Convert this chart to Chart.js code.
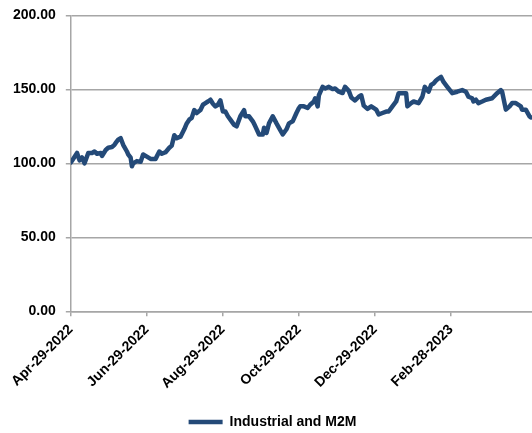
<!DOCTYPE html>
<html>
<head>
<meta charset="utf-8">
<script src="https://cdn.jsdelivr.net/npm/chart.js@4/dist/chart.umd.min.js"></script>
<style>
  html, body { margin: 0; padding: 0; background: #ffffff; overflow: hidden; }
  /* the canvas is a little larger than the view: the plot runs on past the right edge */
  #wrap { width: 532px; height: 433px; overflow: hidden; position: relative; }
  #c { position: absolute; left: 0; top: -3px; }
</style>
</head>
<body>
<div id="wrap"><canvas id="c" width="542" height="436"></canvas></div>
<script>
// Series: index level, sampled by calendar day counted from the start date
const seriesName = 'Industrial and M2M';
const startDate = '2022-04-29';

const dayOffsets = [
  0, 5, 7, 9, 11, 14, 17, 19, 21, 24,
  25, 28, 30, 33, 35, 36, 38, 40, 42, 45,
  46, 48, 49, 50, 53, 56, 58, 61, 64, 68,
  71, 73, 76, 79, 81, 83, 85, 88, 91, 93,
  95, 97, 99, 101, 104, 106, 108, 110, 112, 114,
  116, 118, 120, 122, 124, 126, 128, 131, 133, 136,
  139, 140, 143, 146, 148, 151, 154, 155, 157, 159,
  162, 165, 167, 170, 173, 175, 178, 181, 183, 184,
  187, 190, 192, 195, 196, 198, 199, 202, 204, 207,
  210, 212, 215, 218, 220, 223, 225, 228, 231, 233,
  235, 238, 241, 245, 247, 250, 253, 255, 258, 261,
  263, 266, 269, 270, 273, 275, 279, 282, 284, 286,
  287, 289, 291, 293, 295, 297, 299, 302, 306, 310,
  314, 317, 319, 322, 323, 325, 327, 330, 333, 338,
  342, 345, 346, 349, 352, 354, 357, 361, 362, 365,
  368, 369
];

const values = [
  100.5, 107, 102, 104, 100, 107, 107, 108, 106.5, 107,
  105, 109, 110.5, 111, 112.5, 113.8, 116, 117, 112.5, 108,
  106, 103.8, 98, 100, 101.5, 101, 106, 104.5, 103, 103,
  108, 106.5, 107.5, 110.5, 112, 119, 117, 118, 123, 127,
  129.5, 130.7, 136, 134, 136, 139.6, 140.7, 141.8, 143, 140.3,
  138.5, 139.6, 142.5, 135, 135, 131.8, 129.5, 126, 125, 131.8,
  136, 131.8, 131.8, 128.4, 125, 119.5, 119.5, 124, 120.5, 127,
  131.8, 127, 124, 119.5, 123, 127, 128.4, 134, 137.4, 138.5,
  138.5, 137.4, 139.6, 141.8, 144, 138.5, 146, 151.7, 150.6, 151.7,
  150.2, 150.6, 148.4, 147.5, 151.7, 149, 144.5, 142.5, 145, 146,
  139, 136.8, 138.5, 136.3, 133, 134, 135, 135, 138.5, 141.8,
  147.4, 147.4, 147.4, 138.5, 140.7, 141.8, 140.7, 145, 151.7, 149.5,
  148.4, 153, 154, 156, 157.3, 158.4, 155, 151.7, 147.4, 148.4,
  149.5, 148.4, 145, 144, 141.8, 143, 140.7, 141.8, 143, 144,
  147.4, 149.5, 148.4, 136.3, 138.5, 140.7, 140.7, 138.5, 136.3, 136.3,
  131.8, 131
];

const tickLabels = ['Apr-29-2022', 'Jun-29-2022', 'Aug-29-2022', 'Oct-29-2022', 'Dec-29-2022', 'Feb-28-2023'];
const yTickValues = [0, 50, 100, 150, 200];
const axisEndDay = 378;

const MONTHS = ['Jan','Feb','Mar','Apr','May','Jun','Jul','Aug','Sep','Oct','Nov','Dec'];
const DAY_MS = 86400000;
const [sy, sm, sd] = startDate.split('-').map(Number);
const startUTC = Date.UTC(sy, sm - 1, sd);

function labelToDay(label) {
  const [mon, d, y] = label.split('-');
  return Math.round((Date.UTC(+y, MONTHS.indexOf(mon), +d) - startUTC) / DAY_MS);
}
const tickDays = tickLabels.map(labelToDay);

const points = dayOffsets.map((d, i) => ({ x: d, y: values[i] }));

const LINE = '#244a78';
const GRID = '#a6a6a6';
const FONT = "'Liberation Sans', Arial, sans-serif";

new Chart(document.getElementById('c'), {
  type: 'line',
  data: {
    datasets: [{
      label: seriesName,
      data: points,
      borderColor: LINE,
      backgroundColor: LINE,
      borderWidth: 4.5,
      borderCapStyle: 'round',
      borderJoinStyle: 'round',
      pointStyle: 'line',
      pointRadius: 0,
      tension: 0
    }]
  },
  options: {
    responsive: false,
    animation: false,
    devicePixelRatio: 1,
    layout: { padding: { top: 4, left: 3, right: 0, bottom: -6 } },
    scales: {
      x: {
        type: 'linear',
        min: 0,
        max: axisEndDay,
        afterBuildTicks: (axis) => { axis.ticks = tickDays.map(v => ({ value: v })); },
        grid: { display: true, drawOnChartArea: false, drawTicks: true, tickLength: 5, color: GRID, lineWidth: 1.5 },
        border: { display: true, color: GRID, width: 1.5 },
        ticks: {
          autoSkip: false,
          maxRotation: 45,
          minRotation: 45,
          padding: 5,
          color: '#000',
          font: { family: FONT, size: 14, weight: 'bold' },
          callback: (v) => { const i = tickDays.indexOf(v); return i >= 0 ? tickLabels[i] : ''; }
        }
      },
      y: {
        min: 0,
        max: 200,
        afterBuildTicks: (axis) => { axis.ticks = yTickValues.map(v => ({ value: v })); },
        grid: { color: GRID, lineWidth: 1.5, tickLength: 5 },
        border: { display: true, color: GRID, width: 1.5 },
        ticks: {
          padding: 10,
          color: '#000',
          font: { family: FONT, size: 14, weight: 'bold' },
          callback: (v) => Number(v).toFixed(2)
        }
      }
    },
    plugins: {
      legend: {
        position: 'bottom',
        labels: {
          usePointStyle: true,
          pointStyle: 'line',
          pointStyleWidth: 34,
          padding: 18,
          color: '#000',
          font: { family: FONT, size: 14, weight: 'bold' }
        }
      },
      tooltip: { enabled: false }
    }
  }
});
</script>
</body>
</html>
